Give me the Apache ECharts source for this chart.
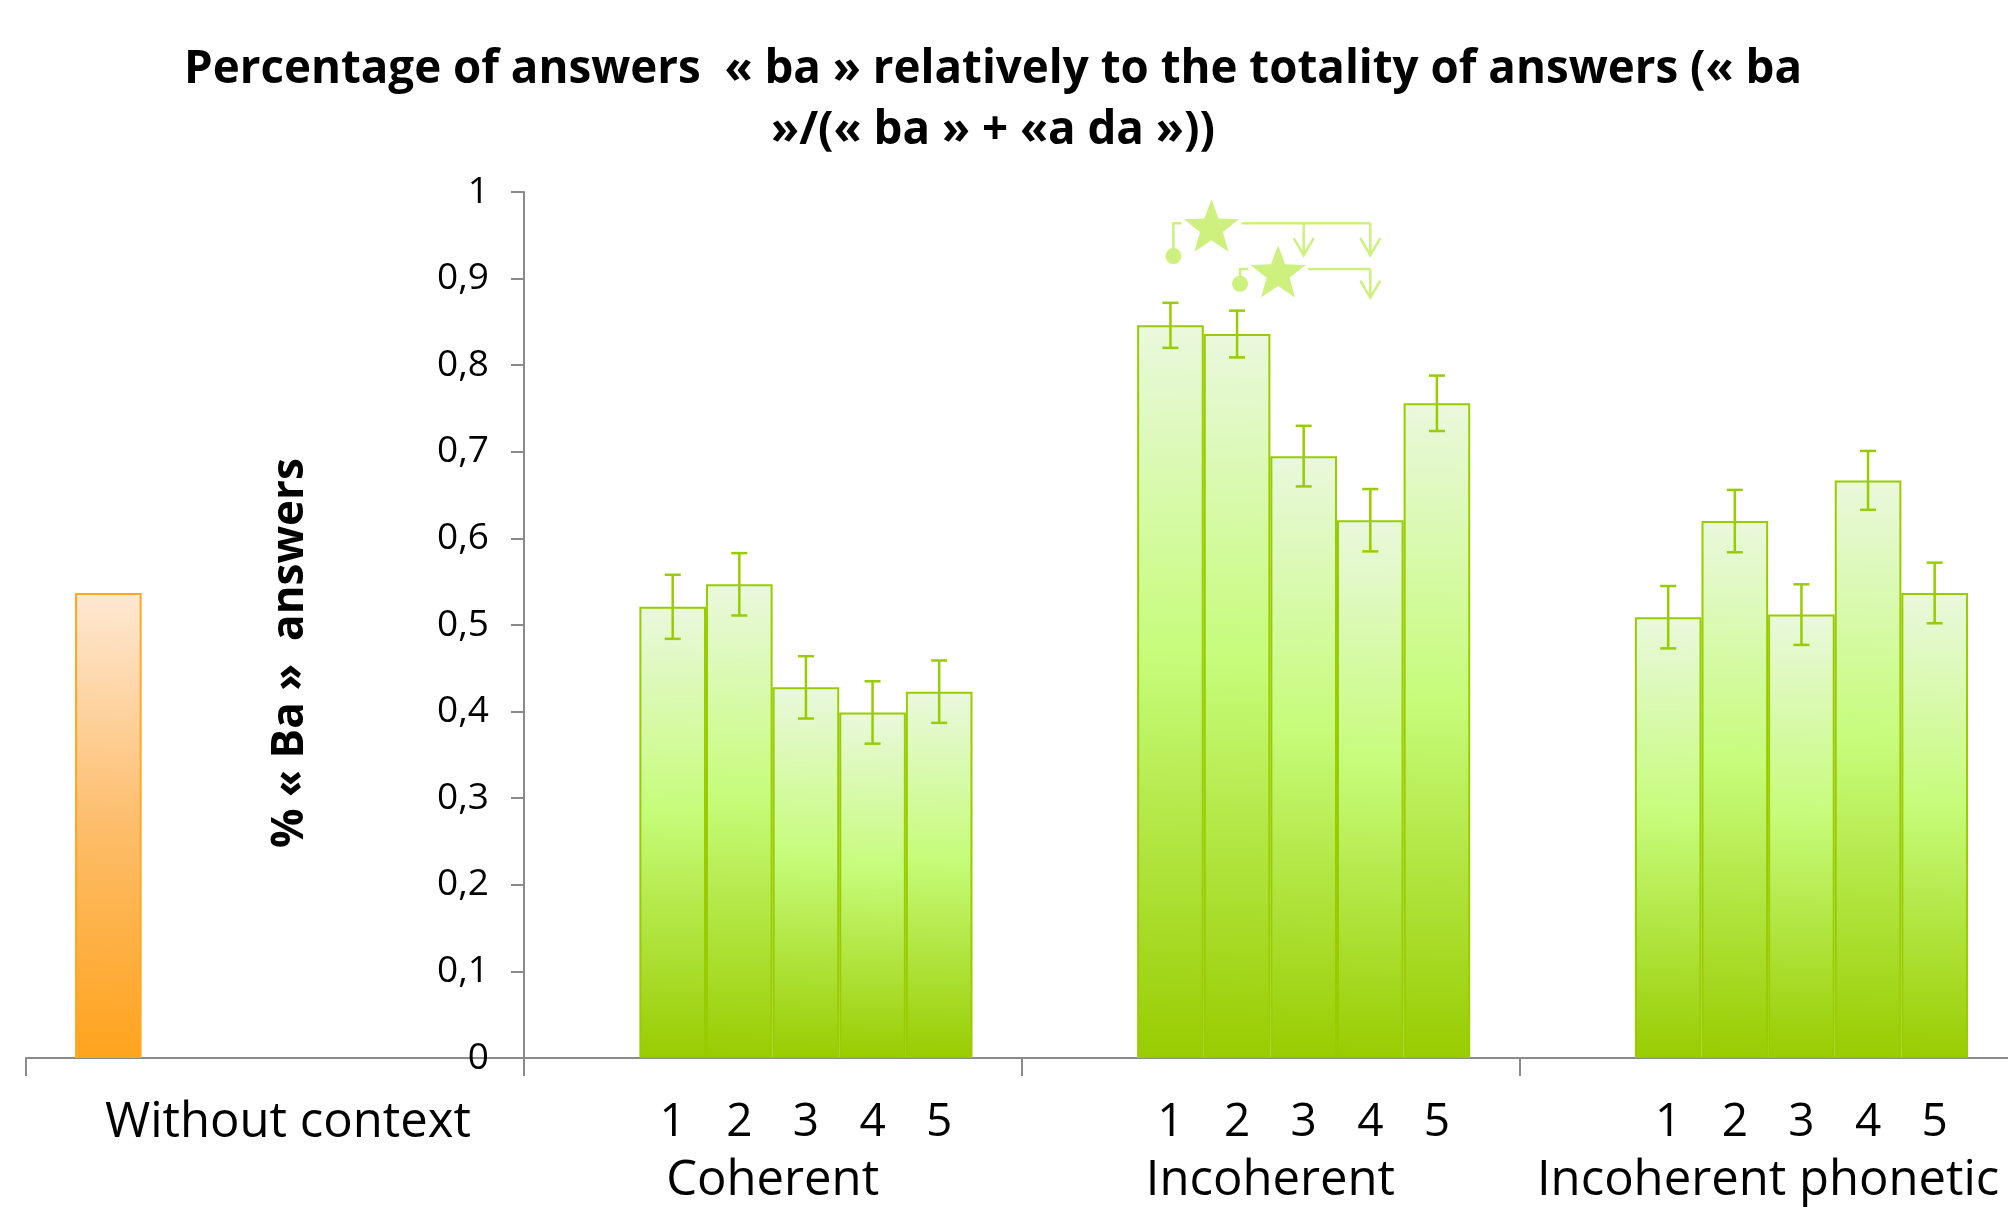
<!DOCTYPE html>
<html>
<head>
<meta charset="utf-8">
<script src="https://cdn.jsdelivr.net/npm/echarts@6/dist/echarts.min.js"></script>
<style>
html, body { margin: 0; padding: 0; background: #fff; }
#main { width: 2008px; height: 1207px; }
</style>
</head>
<body>
<div id="main"></div>
<script>
// categories and bar names
var categories = ['Without context', 'Coherent', 'Incoherent', 'Incoherent phonetic'];
var barNames = ['1', '2', '3', '4', '5'];

// values
var withoutContext = 0.537;
var coherent = [0.521, 0.547, 0.428, 0.399, 0.423];
var incoherent = [0.846, 0.836, 0.695, 0.621, 0.756];
var phonetic = [0.509, 0.620, 0.512, 0.667, 0.537];

// error bar half-lengths
var coherentErr = [0.037, 0.036, 0.036, 0.036, 0.036];
var incoherentErr = [0.026, 0.027, 0.035, 0.036, 0.032];
var phoneticErr = [0.036, 0.036, 0.035, 0.034, 0.035];

// significance marks (Incoherent group): from bar -> to bars
var sigFrom = [1, 2];
var sigTo = [[3, 4], [4]];
var sigDotY = [0.926, 0.894];
var sigLineY = [0.964, 0.911];
var sigTipY = [0.927, 0.878];

var yTicks = [0, 0.1, 0.2, 0.3, 0.4, 0.5, 0.6, 0.7, 0.8, 0.9, 1];

var GAP = 0.197;
var SLOTS = 6;
var GREEN = '#99cc00';
var PALE = '#cdf07f';
var FONT = '"Open Sans", Lato, sans-serif';

var myChart = echarts.init(document.getElementById('main'));

var greenFill = new echarts.graphic.LinearGradient(0.15, 0, 0, 1, [
    { offset: 0, color: '#eaf8dd' },
    { offset: 0.45, color: '#c6fc7a' },
    { offset: 1, color: '#99cc00' }
]);
var orangeFill = new echarts.graphic.LinearGradient(0.15, 0, 0, 1, [
    { offset: 0, color: '#fee8d3' },
    { offset: 0.5, color: '#fdbd6a' },
    { offset: 1, color: '#ffa31c' }
]);

var series = [];
series.push({
    name: 'Without context',
    type: 'bar',
    barGap: '0%',
    barCategoryGap: (GAP * 100) + '%',
    data: [withoutContext, '-', '-', '-'],
    itemStyle: { color: orangeFill, borderColor: '#ffa826', borderWidth: 2 }
});
barNames.forEach(function (n, k) {
    series.push({
        name: n,
        type: 'bar',
        barGap: '0%',
        barCategoryGap: (GAP * 100) + '%',
        data: ['-', coherent[k], incoherent[k], phonetic[k]],
        itemStyle: { color: greenFill, borderColor: GREEN, borderWidth: 2 },
        label: {
            show: true,
            position: 'bottom',
            distance: 42,
            formatter: n,
            fontFamily: FONT,
            fontSize: 46,
            color: '#000'
        }
    });
});

// error bars: [category, slot, value, err]
var errData = [];
[coherent, incoherent, phonetic].forEach(function (arr, g) {
    var errs = [coherentErr, incoherentErr, phoneticErr][g];
    arr.forEach(function (v, k) {
        errData.push([g + 1, k + 1, v, errs[k]]);
    });
});

function slotX(api, cat, slot) {
    var bandW = api.size([1, 0])[0];
    var bw = bandW * (1 - GAP) / SLOTS;
    return api.coord([cat, 0])[0] + (slot - (SLOTS - 1) / 2) * bw;
}

series.push({
    type: 'custom',
    name: 'err',
    z: 5,
    silent: true,
    encode: { x: 0, y: 2 },
    data: errData,
    renderItem: function (params, api) {
        var cat = api.value(0), slot = api.value(1), v = api.value(2), e = api.value(3);
        var x = slotX(api, cat, slot);
        var top = api.coord([cat, v + e])[1];
        var bot = api.coord([cat, v - e])[1];
        var cap = 8;
        var st = { stroke: GREEN, lineWidth: 2.5 };
        return {
            type: 'group',
            children: [
                { type: 'line', shape: { x1: x, y1: top, x2: x, y2: bot }, style: st },
                { type: 'line', shape: { x1: x - cap, y1: top, x2: x + cap, y2: top }, style: st },
                { type: 'line', shape: { x1: x - cap, y1: bot, x2: x + cap, y2: bot }, style: st }
            ]
        };
    }
});

// star annotations
function starPoints(cx, cy, ro, ri) {
    var pts = [];
    for (var i = 0; i < 10; i++) {
        var a = -Math.PI / 2 + i * Math.PI / 5;
        var r = i % 2 ? ri : ro;
        pts.push([cx + r * Math.cos(a), cy + r * Math.sin(a)]);
    }
    return pts;
}

series.push({
    type: 'custom',
    name: 'sig',
    z: 6,
    silent: true,
    encode: { x: 0, y: 1 },
    data: sigFrom.map(function (s, i) { return [2, sigLineY[i]]; }),
    renderItem: function (params, api) {
        var i = params.dataIndex;
        var cat = api.value(0);
        var dx = slotX(api, cat, sigFrom[i]) + 3;
        var dy = api.coord([cat, sigDotY[i]])[1];
        var ly = api.coord([cat, sigLineY[i]])[1];
        var ty = api.coord([cat, sigTipY[i]])[1];
        var sx = dx + 38;
        var targets = sigTo[i].map(function (t) { return slotX(api, cat, t); });
        var endX = targets[targets.length - 1];
        var st = { stroke: PALE, lineWidth: 2.5, fill: null };
        var kids = [
            { type: 'circle', shape: { cx: dx, cy: dy, r: 8 }, style: { fill: PALE } },
            { type: 'polyline', shape: { points: [[dx, dy], [dx, ly], [dx + 8, ly]] }, style: st },
            { type: 'polygon', shape: { points: starPoints(sx, ly + 5, 29, 12) }, style: { fill: PALE } },
            { type: 'line', shape: { x1: sx + 30, y1: ly, x2: endX, y2: ly }, style: st }
        ];
        targets.forEach(function (tx) {
            kids.push({ type: 'line', shape: { x1: tx, y1: ly, x2: tx, y2: ty }, style: st });
            kids.push({ type: 'polyline', shape: { points: [[tx - 10, ty - 17], [tx, ty], [tx + 10, ty - 17]] }, style: st });
        });
        return { type: 'group', children: kids };
    }
});

var option = {
    backgroundColor: '#fff',
    animation: false,
    title: {
        text: 'Percentage of answers  « ba » relatively to the totality of answers (« ba\n»/(« ba » + «a da »))',
        left: 988,
        textAlign: 'center',
        top: 34,
        textStyle: {
            fontFamily: FONT,
            fontWeight: 'bold',
            fontSize: 45.7,
            lineHeight: 61,
            color: '#000'
        }
    },
    grid: { left: 26, width: 1991, top: 192, height: 866, outerBoundsMode: 'none', containLabel: false },
    xAxis: {
        type: 'category',
        data: categories,
        axisLine: { show: true, lineStyle: { color: '#8a8a8a', width: 2 } },
        axisTick: { show: true, length: 18, lineStyle: { color: '#8a8a8a', width: 2 } },
        axisLabel: {
            interval: 0,
            margin: 36,
            fontFamily: FONT,
            fontSize: 49,
            lineHeight: 58,
            color: '#000',
            formatter: function (v) {
                return v === 'Without context' ? '{w|' + v + '}\n' : '\n' + v;
            },
            rich: {
                w: { fontFamily: FONT, fontSize: 49, lineHeight: 58, color: '#000', padding: [0, 0, 0, 26] }
            }
        }
    },
    yAxis: {
        type: 'value',
        min: 0,
        max: 1,
        interval: 0.1,
        offset: -498,
        splitLine: { show: false },
        axisLine: { show: true, lineStyle: { color: '#8a8a8a', width: 2 } },
        axisTick: { show: true, length: 13, lineStyle: { color: '#8a8a8a', width: 2 } },
        axisLabel: {
            margin: 35,
            fontFamily: FONT,
            fontSize: 37,
            color: '#000',
            formatter: function (v) {
                var t = yTicks.filter(function (y) { return Math.abs(y - v) < 1e-6; });
                return (t.length ? t[0] : v).toString().replace('.', ',');
            }
        },
        name: '% « Ba »  answers',
        nameLocation: 'middle',
        nameGap: 212,
        nameRotate: 90,
        nameTextStyle: {
            fontFamily: FONT,
            fontWeight: 'bold',
            fontSize: 44,
            color: '#000',
            padding: [0, 56, 0, 0]
        }
    },
    series: series
};

myChart.setOption(option);
</script>
</body>
</html>
